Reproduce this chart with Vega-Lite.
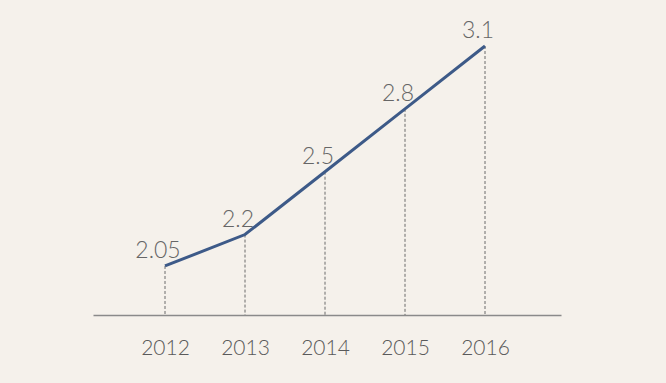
{
  "$schema": "https://vega.github.io/schema/vega-lite/v6.json",
  "autosize": "none",
  "width": 468,
  "height": 269,
  "padding": {"left": 93, "top": 46, "right": 105, "bottom": 68},
  "background": "#f5f1eb",
  "config": {"view": {"stroke": null}},
  "data": {"values": [
    {"year": 2012, "value": 2.05, "label": "2.05"},
    {"year": 2013, "value": 2.2, "label": "2.2"},
    {"year": 2014, "value": 2.5, "label": "2.5"},
    {"year": 2015, "value": 2.8, "label": "2.8"},
    {"year": 2016, "value": 3.1, "label": "3.1"}
  ]},
  "encoding": {
    "x": {"field": "year", "type": "quantitative",
      "scale": {"domain": [2011.1, 2016.95], "nice": false, "zero": false},
      "axis": {"values": [2012, 2013, 2014, 2015, 2016], "format": "d", "title": null,
        "grid": false, "ticks": false, "domainColor": "#8a8a8a", "domainWidth": 1.5,
        "labelFont": "Lato", "labelFontWeight": 300, "labelFontSize": 21, "labelColor": "#5a5a5a", "labelPadding": 22}},
    "y": {"field": "value", "type": "quantitative",
      "scale": {"domain": [1.816, 3.1], "nice": false, "zero": false}, "axis": null}
  },
  "layer": [
    {"mark": {"type": "rule", "strokeDash": [3, 2], "color": "#6a6a6a", "strokeWidth": 1},
     "encoding": {"y2": {"datum": 1.816}}},
    {"mark": {"type": "line", "color": "#3d5a88", "strokeWidth": 3}},
    {"mark": {"type": "text", "font": "Lato", "fontWeight": 300, "fontSize": 23, "color": "#666666", "dx": -7, "dy": -8, "baseline": "alphabetic", "align": "center"},
     "encoding": {"text": {"field": "label"}}}
  ]
}
